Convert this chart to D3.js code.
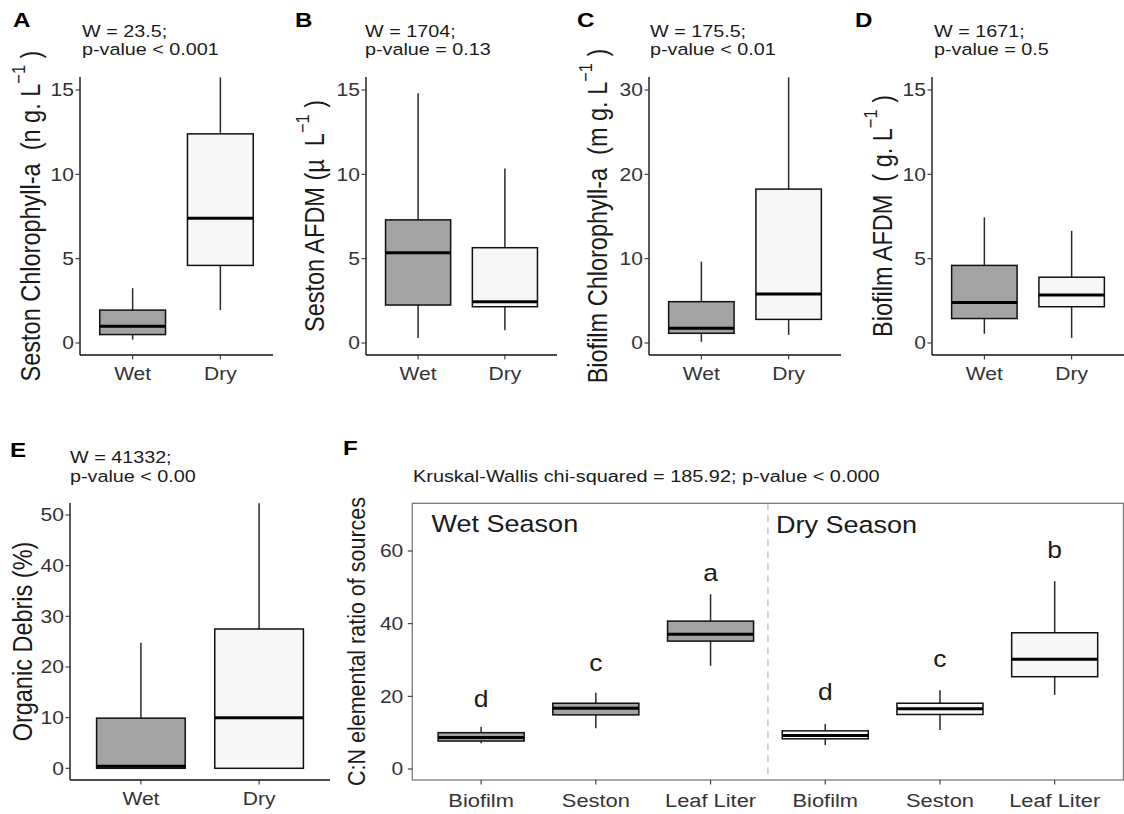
<!DOCTYPE html>
<html><head><meta charset="utf-8">
<script src="https://cdn.jsdelivr.net/npm/d3@7"></script>
<style>
body{margin:0;background:#fff}
text{font-family:"Liberation Sans",Arial,Helvetica,sans-serif;white-space:pre}
</style>
</head><body>
<svg id="chart" width="1124" height="814"></svg>
<script>
// ---------------- DATA ----------------
const seasons = ["Wet", "Dry"];
// box stats: [lower whisker, Q1, median, Q3, upper whisker]
const sestonChlWet  = [0.2, 0.5, 1.0, 1.95, 3.25];
const sestonChlDry  = [1.95, 4.6, 7.4, 12.4, 15.75];
const sestonAfdmWet = [0.3, 2.25, 5.35, 7.3, 14.8];
const sestonAfdmDry = [0.75, 2.15, 2.45, 5.65, 10.35];
const biofilmChlWet = [0.15, 1.15, 1.75, 4.9, 9.65];
const biofilmChlDry = [0.95, 2.8, 5.8, 18.25, 31.5];
const biofilmAfdmWet = [0.55, 1.45, 2.4, 4.6, 7.45];
const biofilmAfdmDry = [0.3, 2.15, 2.85, 3.9, 6.65];
const debrisWet = [0, 0, 0.4, 9.9, 24.8];
const debrisDry = [0, 0, 10, 27.5, 52.3];

const sources = ["Biofilm", "Seston", "Leaf Liter"];
const cnWet = [[7.1, 7.7, 8.7, 10.0, 11.6], [11.2, 14.9, 16.7, 18.1, 21.0], [28.4, 35.2, 37.1, 40.7, 48.1]];
const cnDry = [[6.6, 8.3, 9.2, 10.5, 12.4], [10.7, 15.0, 16.6, 18.1, 21.7], [20.4, 25.4, 30.2, 37.5, 51.7]];
const cnLettersWet = ["d", "c", "a"];
const cnLettersDry = ["d", "c", "b"];
const cnLetterYWet = [17.0, 27.1, 51.7];
const cnLetterYDry = [19.0, 28.2, 58.0];

const ticks15 = [0, 5, 10, 15];
const ticks30 = [0, 10, 20, 30];
const ticksDebris = [0, 10, 20, 30, 40, 50];
const ticksCN = [0, 20, 40, 60];

const statA = ["W = 23.5;", "p-value < 0.001"];
const statB = ["W = 1704;", "p-value = 0.13"];
const statC = ["W = 175.5;", "p-value < 0.01"];
const statD = ["W = 1671;", "p-value = 0.5"];
const statE = ["W = 41332;", "p-value < 0.00"];
const statF = "Kruskal-Wallis chi-squared = 185.92; p-value < 0.000";

const labelA = ["Seston Chlorophyll-a  (n g. L", "\u22121", " )"];
const labelB = ["Seston AFDM (\u00b5  L", "\u22121", " )"];
const labelC = ["Biofilm Chlorophyll-a  (m g. L", "\u22121", " )"];
const labelD = ["Biofilm AFDM  ( g. L", "\u22121", " )"];
const labelE = ["Organic Debris (%)"];
const labelF = ["C:N elemental ratio of sources"];
const seasonTitles = ["Wet Season", "Dry Season"];

// ---------------- STYLE ----------------
const SX = 1.15;               // horizontal text stretch of the reference
const WET_FILL = "#a3a3a3", DRY_FILL = "#f7f7f7";
const TICK_SIZE = 18.3, STAT_SIZE = 17.2;
const svg = d3.select("#chart");
svg.append("rect").attr("width", 1124).attr("height", 814).attr("fill", "#fff");

function txt(g, x, y, s, o = {}) {
  const t = g.append("text")
    .attr("transform", `translate(${x},${y}) scale(${SX},1)` + (o.rot ? " rotate(-90)" : ""))
    .attr("font-size", o.size || TICK_SIZE)
    .attr("fill", o.fill || "#1a1a1a")
    .attr("text-anchor", o.anchor || "start");
  if (o.bold) t.attr("font-weight", "bold");
  if (o.db) t.attr("dominant-baseline", o.db);
  if (Array.isArray(s)) {
    const fs = o.size || TICK_SIZE, sh = fs * 0.42;
    t.append("tspan").text(s[0]);
    if (s.length > 1) {
      t.append("tspan").attr("font-size", fs * 0.7).attr("dy", -sh).text(s[1]);
      t.append("tspan").attr("dy", sh).text(s[2]);
    }
  } else t.text(s);
  return t;
}

function drawBox(g, xc, w, s, y, fill) {
  const [lo, q1, med, q3, hi] = s;
  g.append("line").attr("x1", xc).attr("x2", xc).attr("y1", y(hi)).attr("y2", y(q3))
    .attr("stroke", "#2a2a2a").attr("stroke-width", 1.5);
  g.append("line").attr("x1", xc).attr("x2", xc).attr("y1", y(q1)).attr("y2", y(lo))
    .attr("stroke", "#2a2a2a").attr("stroke-width", 1.5);
  g.append("rect").attr("x", xc - w / 2).attr("width", w)
    .attr("y", y(q3)).attr("height", Math.max(0.5, y(q1) - y(q3)))
    .attr("fill", fill).attr("stroke", "#111").attr("stroke-width", 1.5);
  g.append("line").attr("x1", xc - w / 2).attr("x2", xc + w / 2).attr("y1", y(med)).attr("y2", y(med))
    .attr("stroke", "#000").attr("stroke-width", 3);
}

function yAxisTicks(g, ax, y, ticks, labelGap) {
  ticks.forEach(v => {
    g.append("line").attr("x1", ax - 4.5).attr("x2", ax).attr("y1", y(v)).attr("y2", y(v))
      .attr("stroke", "#333").attr("stroke-width", 1.1);
    txt(g, ax - labelGap, y(v), String(v), {anchor: "end", db: "central", fill: "#333"});
  });
}

// ---------------- TOP PANELS (A-D) ----------------
const topPanels = [
  {letter: "A", stat: statA, label: labelA, wet: sestonChlWet, dry: sestonChlDry, ticks: ticks15, x0: 80, x1: 273, labelX: 30, letterX: 13, titleX: 82},
  {letter: "B", stat: statB, label: labelB, wet: sestonAfdmWet, dry: sestonAfdmDry, ticks: ticks15, x0: 366, x1: 557, labelX: 314, letterX: 295, titleX: 365},
  {letter: "C", stat: statC, label: labelC, wet: biofilmChlWet, dry: biofilmChlDry, ticks: ticks30, x0: 649, x1: 841, labelX: 597, letterX: 577, titleX: 650},
  {letter: "D", stat: statD, label: labelD, wet: biofilmAfdmWet, dry: biofilmAfdmDry, ticks: ticks15, x0: 932, x1: 1124, labelX: 882, letterX: 855, titleX: 934}
];

function seasonPanel(p, yTop, yBot, y, xLabelY) {
  const g = svg.append("g");
  const x = d3.scalePoint().domain(seasons).range([p.x0, p.x1]).padding(0.6);
  const bw = x.step() * 0.75;
  drawBox(g, x("Wet"), bw, p.wet, y, WET_FILL);
  drawBox(g, x("Dry"), bw, p.dry, y, DRY_FILL);
  g.append("line").attr("x1", p.x0).attr("x2", p.x0).attr("y1", yTop).attr("y2", yBot)
    .attr("stroke", "#222").attr("stroke-width", 1.5);
  g.append("line").attr("x1", p.x0).attr("x2", p.x1).attr("y1", yBot).attr("y2", yBot)
    .attr("stroke", "#111").attr("stroke-width", 1.3);
  yAxisTicks(g, p.x0, y, p.ticks, 6);
  seasons.forEach(s => {
    g.append("line").attr("x1", x(s)).attr("x2", x(s)).attr("y1", yBot).attr("y2", yBot + 4.5)
      .attr("stroke", "#333").attr("stroke-width", 1.1);
    txt(g, x(s), xLabelY, s, {anchor: "middle", fill: "#333"});
  });
  return g;
}

topPanels.forEach(p => {
  const top = p.ticks[p.ticks.length - 1];
  const y = d3.scaleLinear().domain([0, top]).range([343, 90]);
  const g = seasonPanel(p, 77, 355, y, 380);
  txt(g, p.letterX, 27, p.letter, {size: 21, bold: true, fill: "#000"});
  txt(g, p.titleX, 36.7, p.stat[0], {size: STAT_SIZE});
  txt(g, p.titleX, 54.5, p.stat[1], {size: STAT_SIZE});
  txt(g, p.labelX, 216, p.label, {size: 23.5, rot: true, anchor: "middle", db: "central"});
});

// ---------------- PANEL E ----------------
{
  const p = {wet: debrisWet, dry: debrisDry, ticks: ticksDebris, x0: 70, x1: 330};
  const y = d3.scaleLinear().domain([0, 50]).range([768.3, 515]);
  const g = seasonPanel(p, 503, 780, y, 805);
  txt(g, 10, 456.5, "E", {size: 21, bold: true, fill: "#000"});
  txt(g, 70, 463.3, statE[0], {size: STAT_SIZE});
  txt(g, 70, 481.5, statE[1], {size: STAT_SIZE});
  txt(g, 22.5, 641.5, labelE, {size: 23.5, rot: true, anchor: "middle", db: "central"});
}

// ---------------- PANEL F ----------------
{
  const g = svg.append("g");
  const cats = d3.range(6);
  const x = d3.scalePoint().domain(cats).range([412.3, 1123.5]).padding(0.6);
  const y = d3.scaleLinear().domain([0, 60]).range([769, 551]);
  const bw = x.step() * 0.75;
  const pTop = 503.3, pBot = 780;
  // dashed season separator
  const sepX = (x(2) + x(3)) / 2;
  g.append("line").attr("x1", sepX).attr("x2", sepX).attr("y1", pTop).attr("y2", pBot)
    .attr("stroke", "#bdbdbd").attr("stroke-width", 1.3).attr("stroke-dasharray", "7,5");
  sources.forEach((s, i) => {
    drawBox(g, x(i), bw, cnWet[i], y, WET_FILL);
    drawBox(g, x(i + 3), bw, cnDry[i], y, DRY_FILL);
    txt(g, x(i), y(cnLetterYWet[i]), cnLettersWet[i], {size: 23, anchor: "middle"});
    txt(g, x(i + 3), y(cnLetterYDry[i]), cnLettersDry[i], {size: 23, anchor: "middle"});
  });
  g.append("rect").attr("x", 412.3).attr("y", pTop).attr("width", 1123.5 - 412.3).attr("height", pBot - pTop)
    .attr("fill", "none").attr("stroke", "#7a7a7a").attr("stroke-width", 1.3);
  yAxisTicks(g, 412.3, y, ticksCN, 9);
  cats.forEach(i => {
    g.append("line").attr("x1", x(i)).attr("x2", x(i)).attr("y1", pBot).attr("y2", pBot + 4.5)
      .attr("stroke", "#333").attr("stroke-width", 1.1);
    txt(g, x(i), 807, sources[i % 3], {anchor: "middle", fill: "#333", size: 19});
  });
  txt(g, 431.5, 531.7, seasonTitles[0], {size: 23.5});
  txt(g, 776, 533, seasonTitles[1], {size: 23.5});
  txt(g, 343, 455, "F", {size: 21, bold: true, fill: "#000"});
  txt(g, 413, 481.7, statF, {size: 17.3});
  txt(g, 356, 641.5, labelF, {size: 21.5, rot: true, anchor: "middle", db: "central"});
}
</script>
</body></html>
